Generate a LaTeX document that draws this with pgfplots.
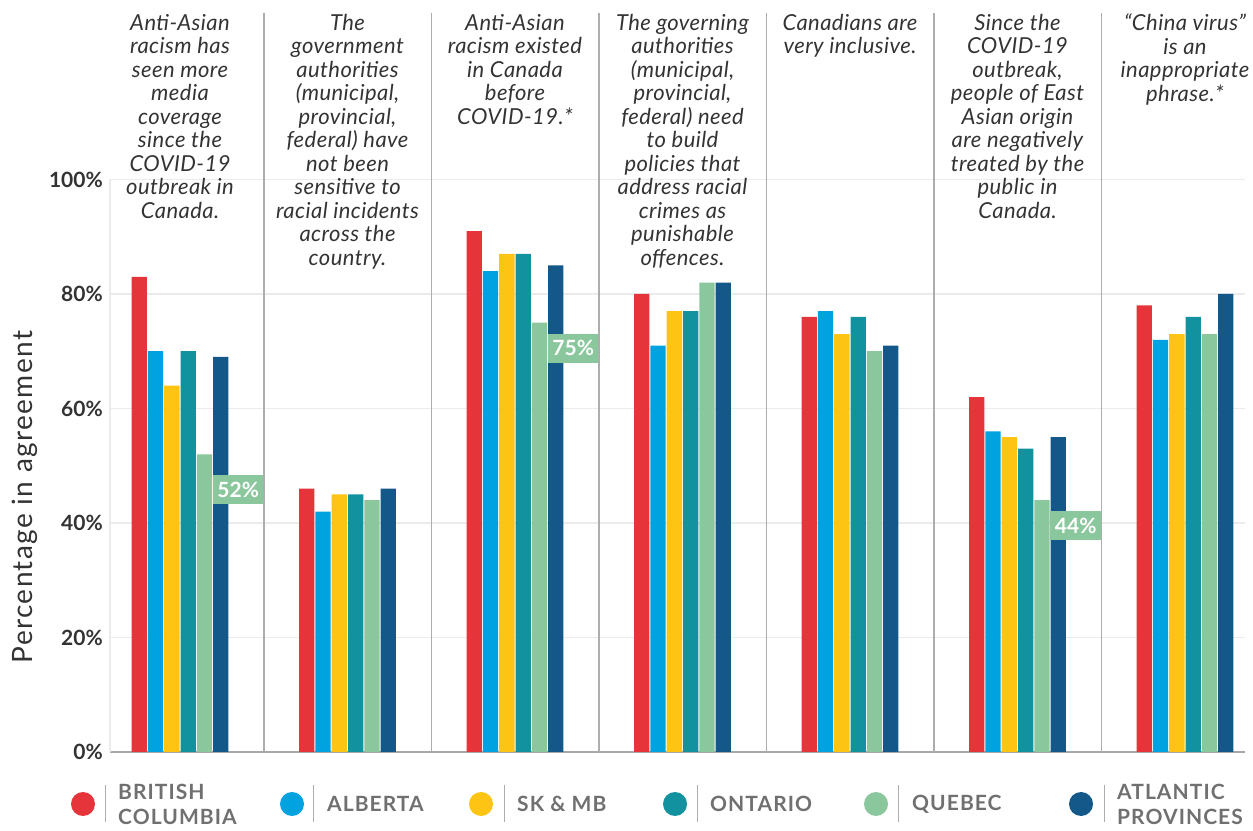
\documentclass[border=0pt]{standalone}
\usepackage{fontspec}
\setmainfont{Lato}
\usepackage{pgfplots}
\usepackage{pgfplotstable}
\pgfplotsset{compat=1.18}

\definecolor{cBC}{HTML}{E5353B}
\definecolor{cAB}{HTML}{00A3E0}
\definecolor{cSK}{HTML}{FDC413}
\definecolor{cON}{HTML}{12929E}
\definecolor{cQC}{HTML}{8BC79D}
\definecolor{cAT}{HTML}{135888}
\definecolor{cGrid}{HTML}{EBEBEB}
\definecolor{cBase}{HTML}{A8A8A8}
\definecolor{cSep}{HTML}{ADADAD}
\definecolor{cText}{HTML}{333333}
\definecolor{cLeg}{HTML}{707070}

% share of respondents agreeing, by region
\pgfplotstableread{
g BC AB SK ON QC AT
0 83 70 64 70 52 69
1 46 42 45 45 44 46
2 91 84 87 87 75 85
3 80 71 77 77 82 82
4 76 77 73 76 70 71
5 62 56 55 53 44 55
6 78 72 73 76 73 80
}\datatable

\tikzset{
  stmt/.style={anchor=north, yshift=165.5pt, align=center, inner sep=0pt,
    font=\addfontfeatures{LetterSpace=2}\fontsize{22}{23.5}\selectfont\itshape, text=cText},
  valbox/.style={anchor=north east, fill=cQC, text=white, inner sep=0pt,
    minimum width=50.6pt, minimum height=29pt,
    font=\fontsize{21}{21}\selectfont\bfseries},
  legtext/.style={anchor=west, align=left, inner sep=0pt, text=cLeg,
    font=\addfontfeatures{LetterSpace=5}\fontsize{21}{25}\selectfont\bfseries},
}

\newcommand{\legitem}[5]{%
  \fill[#4] (#1pt,26pt) circle (12pt);
  \draw[cSep, line width=1pt] (#2pt,8pt) -- (#2pt,45pt);
  \node[legtext] at (#3pt,26pt) {#5};
}

\begin{document}
\begin{tikzpicture}
\path[use as bounding box] (0,0) rectangle (1253pt,830pt);
\begin{axis}[
  at={(110pt,78pt)}, anchor=south west,
  width=1135pt, height=572.5pt, scale only axis,
  xmin=-0.418, xmax=6.358, ymin=0, ymax=100,
  clip=false,
  ybar=1pt, bar width=15.3pt,
  xtick=\empty,
  ytick={0,20,40,60,80,100},
  yticklabels={0\%,20\%,40\%,60\%,80\%,100\%},
  /pgf/number format/assume math mode=true,
  yticklabel style={font=\fontsize{21}{21}\selectfont\bfseries, text=cText,
    inner sep=0pt, xshift=-7pt},
  major tick length=0pt,
  ymajorgrids, major grid style={cGrid, line width=1.5pt},
  axis x line*=bottom, axis y line*=left,
  x axis line style={-, cBase, line width=1.5pt},
  y axis line style={-, cGrid, line width=1.5pt},
]
\addplot[fill=cBC, draw=none] table[x=g, y=BC] {\datatable};
\addplot[fill=cAB, draw=none] table[x=g, y=AB] {\datatable};
\addplot[fill=cSK, draw=none] table[x=g, y=SK] {\datatable};
\addplot[fill=cON, draw=none] table[x=g, y=ON] {\datatable};
\addplot[fill=cQC, draw=none] table[x=g, y=QC] {\datatable};
\addplot[fill=cAT, draw=none] table[x=g, y=AT] {\datatable};

% value call-outs for Quebec
\node[valbox, yshift=-21pt] at (axis cs:0.5,52) {52\%};
\node[valbox, yshift=-11pt] at (axis cs:2.5,75) {75\%};
\node[valbox, yshift=-11pt] at (axis cs:5.5,44) {44\%};

% column separators
\pgfplotsinvokeforeach{0.5,1.5,2.5,3.5,4.5,5.5}{
  \draw[cSep, line width=1.5pt] (axis cs:#1,0) -- ++(0pt,739pt);
}

% statements
\node[stmt] at (axis cs:0,100) {Anti-Asian\\racism has\\seen more\\media\\coverage\\since the\\COVID-19\\outbreak in\\Canada.};
\node[stmt] at (axis cs:1,100) {The\\government\\authorities\\(municipal,\\provincial,\\federal) have\\not been\\sensitive to\\racial incidents\\across the\\country.};
\node[stmt] at (axis cs:2,100) {Anti-Asian\\racism existed\\in Canada\\before\\COVID-19.*};
\node[stmt] at (axis cs:3,100) {The governing\\authorities\\(municipal,\\provincial,\\federal) need\\to build\\policies that\\address racial\\crimes as\\punishable\\offences.};
\node[stmt] at (axis cs:4,100) {Canadians are\\very inclusive.};
\node[stmt] at (axis cs:5,100) {Since the\\COVID-19\\outbreak,\\people of East\\Asian origin\\are negatively\\treated by the\\public in\\Canada.};
\node[stmt] at (axis cs:6,100) {“China virus”\\is an\\inappropriate\\phrase.*};
\end{axis}

\node[rotate=90, inner sep=0pt, text=cText,
  font=\addfontfeatures{LetterSpace=5}\fontsize{28}{28}\selectfont]
  at (25pt,333pt) {Percentage in agreement};

\legitem{83}{105}{118}{cBC}{BRITISH\\COLUMBIA}
\legitem{292}{313}{327}{cAB}{ALBERTA}
\legitem{481}{504}{517}{cSK}{SK \& MB}
\legitem{675}{697}{710}{cON}{ONTARIO}
\legitem{876}{898}{912}{cQC}{QUEBEC}
\legitem{1081}{1104}{1117}{cAT}{ATLANTIC\\PROVINCES}
\end{tikzpicture}
\end{document}
